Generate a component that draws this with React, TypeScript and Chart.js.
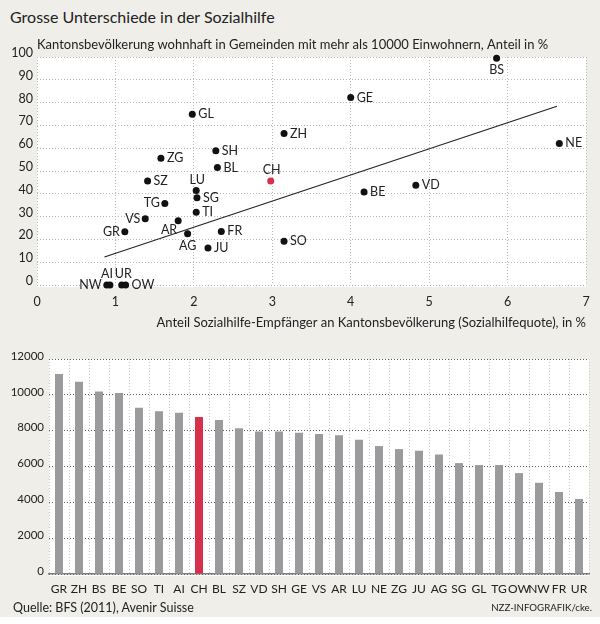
import React, { useEffect, useRef } from "react";
import { Chart, registerables } from "chart.js";

Chart.register(...registerables);

const FONT = "Lato, 'Open Sans', sans-serif";
const INK = "#222222";
const RED = "#d6304c";
const GREY_BAR = "#9a9b9d";
const PANEL = "#efeee9";

// Sozialhilfequote (x, %) vs. share living in towns above 10000 inhabitants (y, %)
const cantons = ["BS", "GE", "GL", "ZH", "NE", "SH", "ZG", "BL", "CH", "SZ", "LU", "SG", "TG", "TI", "VS", "AR", "GR", "AG", "FR", "JU", "SO", "BE", "VD", "NW", "AI", "UR", "OW"];
const welfareRate = [5.86, 4.0, 1.98, 3.15, 6.66, 2.28, 1.58, 2.3, 2.98, 1.41, 2.03, 2.04, 1.63, 2.03, 1.38, 1.8, 1.12, 1.92, 2.35, 2.18, 3.15, 4.17, 4.83, 0.89, 0.93, 1.08, 1.13];
const urbanShare = [99.5, 82.2, 74.9, 66.4, 62.1, 58.9, 55.6, 51.5, 45.6, 45.6, 41.4, 38.3, 35.8, 31.9, 29.1, 28.2, 23.4, 22.5, 23.5, 16.2, 19.2, 40.8, 43.7, 0, 0, 0, 0];

// Linear trend through the cantons
const trendRate = [0.86, 6.63];
const trendShare = [12.3, 78.4];

const rateTicks = [0, 1, 2, 3, 4, 5, 6, 7];
const shareTicks = [0, 10, 20, 30, 40, 50, 60, 70, 80, 90, 100];

// Cost per case by canton, sorted descending
const costCantons = ["GR", "ZH", "BS", "BE", "SO", "TI", "AI", "CH", "BL", "SZ", "VD", "SH", "GE", "VS", "AR", "LU", "NE", "ZG", "JU", "AG", "SG", "GL", "TG", "OW", "NW", "FR", "UR"];
const costPerCase = [11160, 10730, 10190, 10100, 9280, 9090, 9000, 8760, 8590, 8140, 7950, 7950, 7880, 7810, 7750, 7490, 7140, 6970, 6880, 6670, 6190, 6080, 6080, 5630, 5090, 4580, 4190];
const costTicks = [0, 2000, 4000, 6000, 8000, 10000, 12000];

// where each canton's name sits around its dot
const labelSide: Record<string, string> = {
  BS: "below", CH: "above", LU: "above", AG: "below", TG: "left", VS: "left",
  GR: "left", NW: "left", AR: "belowLeft", AI: "aboveEnd", UR: "aboveStart",
};

const plotBackground = {
  id: "plotBackground",
  beforeDraw(chart: any) {
    const { ctx, chartArea: a } = chart;
    ctx.save();
    ctx.fillStyle = "#ffffff";
    ctx.fillRect(a.left, a.top, a.right - a.left, a.bottom - a.top + 2);
    ctx.restore();
  },
};

const pointLabels = {
  id: "pointLabels",
  afterDatasetsDraw(chart: any) {
    const { ctx } = chart;
    const meta = chart.getDatasetMeta(0);
    ctx.save();
    ctx.font = `12.5px ${FONT}`;
    ctx.fillStyle = INK;
    ctx.textBaseline = "middle";
    meta.data.forEach((pt: any, i: number) => {
      const name = cantons[i];
      const side = labelSide[name] || "right";
      let x = pt.x;
      let y = pt.y;
      if (side === "right") { ctx.textAlign = "left"; x += 6; }
      else if (side === "left") { ctx.textAlign = "right"; x -= 5; }
      else if (side === "above") { ctx.textAlign = "center"; x += 1; y -= 11; }
      else if (side === "below") { ctx.textAlign = "center"; y += 12; }
      else if (side === "belowLeft") { ctx.textAlign = "right"; x -= 1; y += 9; }
      else if (side === "aboveEnd") { ctx.textAlign = "right"; x += 3; y -= 11; }
      else if (side === "aboveStart") { ctx.textAlign = "left"; x -= 7; y -= 11; }
      ctx.fillText(name, x, y);
    });
    ctx.restore();
  },
};

const topCaption = {
  id: "topCaption",
  afterDraw(chart: any, _args: any, opts: any) {
    const { ctx, chartArea: a } = chart;
    ctx.save();
    ctx.font = `13px ${FONT}`;
    ctx.fillStyle = INK;
    ctx.textBaseline = "middle";
    ctx.textAlign = "left";
    ctx.fillText(opts.text, a.left, a.top - 12);
    ctx.restore();
  },
};

function ScatterChart() {
  const ref = useRef<HTMLCanvasElement>(null);
  useEffect(() => {
    const points = welfareRate.map((x, i) => ({ x, y: urbanShare[i] }));
    const trend = trendRate.map((x, i) => ({ x, y: trendShare[i] }));
    const chart = new Chart(ref.current!, {
      type: "scatter",
      data: {
        datasets: [
          {
            data: points,
            pointRadius: 3.5,
            pointHoverRadius: 3.5,
            borderWidth: 0,
            backgroundColor: cantons.map((c) => (c === "CH" ? RED : "#111111")),
            clip: false,
          } as any,
          {
            type: "line",
            data: trend,
            showLine: true,
            borderColor: "#222222",
            borderWidth: 1.1,
            pointRadius: 0,
            fill: false,
          } as any,
        ],
      },
      options: {
        responsive: false,
        animation: false,
        layout: { padding: { top: 29, right: 14, left: 0, bottom: 0 } },
        plugins: {
          legend: { display: false },
          tooltip: { enabled: false },
          topCaption: { text: "Kantonsbevölkerung wohnhaft in Gemeinden mit mehr als 10000 Einwohnern, Anteil in %" },
        } as any,
        scales: {
          x: {
            type: "linear",
            min: 0,
            max: 7,
            afterBuildTicks: (s: any) => { s.ticks = rateTicks.map((v) => ({ value: v })); },
            afterFit: (s: any) => { s.height = 53; },
            grid: { color: "#b8b8b8", lineWidth: 1, drawTicks: false },
            border: { display: false, dash: [1, 2] },
            ticks: { color: INK, font: { family: FONT, size: 12.5 }, padding: 9 },
            title: {
              display: true,
              text: "Anteil Sozialhilfe-Empfänger an Kantonsbevölkerung (Sozialhilfequote), in %",
              align: "end",
              color: INK,
              font: { family: FONT, size: 13 },
              padding: { top: 0, bottom: 7 },
            },
          },
          y: {
            type: "linear",
            min: 0,
            max: 100,
            afterBuildTicks: (s: any) => { s.ticks = shareTicks.map((v) => ({ value: v })); },
            afterFit: (s: any) => { s.width = 37; },
            grid: { color: "#b8b8b8", lineWidth: 1, drawTicks: false },
            border: { display: false, dash: [1, 2] },
            ticks: { color: INK, font: { family: FONT, size: 12.5 }, padding: 4, labelOffset: -4 } as any,
          },
        },
      },
      plugins: [plotBackground, pointLabels, topCaption],
    });
    return () => chart.destroy();
  }, []);
  return <canvas ref={ref} width={600} height={310} style={{ position: "absolute", left: 0, top: 28 }} />;
}

function BarChart() {
  const ref = useRef<HTMLCanvasElement>(null);
  useEffect(() => {
    const chart = new Chart(ref.current!, {
      type: "bar",
      data: {
        labels: costCantons,
        datasets: [
          {
            data: costPerCase,
            backgroundColor: costCantons.map((c) => (c === "CH" ? RED : GREY_BAR)),
            borderWidth: 0,
            categoryPercentage: 1,
            barPercentage: 0.4,
          },
        ],
      },
      options: {
        responsive: false,
        animation: false,
        layout: { padding: { top: 21, right: 11, left: 0, bottom: 0 } },
        plugins: { legend: { display: false }, tooltip: { enabled: false } },
        scales: {
          x: {
            afterFit: (s: any) => { s.height = 26; },
            grid: { color: "#c9c9c9", lineWidth: 1, drawTicks: false, offset: true },
            border: { display: true, color: "#7d7d7d", width: 1.5, dash: [1, 2] },
            ticks: { color: INK, font: { family: FONT, size: 12 }, padding: 8, autoSkip: false, maxRotation: 0 },
          },
          y: {
            min: 0,
            max: 12000,
            afterBuildTicks: (s: any) => { s.ticks = costTicks.map((v) => ({ value: v })); },
            afterFit: (s: any) => { s.width = 49; },
            grid: { color: "#5a5a5a", lineWidth: 1, drawTicks: false },
            border: { display: false, dash: [1, 2] },
            ticks: {
              color: INK,
              font: { family: FONT, size: 11.5 },
              padding: 5,
              labelOffset: -3,
              callback: (v: any) => String(v),
            } as any,
          },
        },
      },
      plugins: [plotBackground],
    });
    return () => chart.destroy();
  }, []);
  return <canvas ref={ref} width={600} height={262} style={{ position: "absolute", left: 0, top: 338 }} />;
}

export default function App() {
  return (
    <div
      style={{
        position: "absolute",
        left: 0,
        top: 0,
        width: 600,
        height: 617,
        background: PANEL,
        fontFamily: FONT,
        color: INK,
        overflow: "hidden",
      }}
    >
      <div style={{ position: "absolute", left: 10, top: 7, fontSize: 16, lineHeight: "20px" }}>
        Grosse Unterschiede in der Sozialhilfe
      </div>
      <ScatterChart />
      <BarChart />
      <div style={{ position: "absolute", left: 13, top: 599, fontSize: 12.5, lineHeight: "18px" }}>
        Quelle: BFS (2011), Avenir Suisse
      </div>
      <div style={{ position: "absolute", right: 8, top: 600, fontSize: 9.7, lineHeight: "14px" }}>
        NZZ-INFOGRAFIK/cke.
      </div>
    </div>
  );
}
